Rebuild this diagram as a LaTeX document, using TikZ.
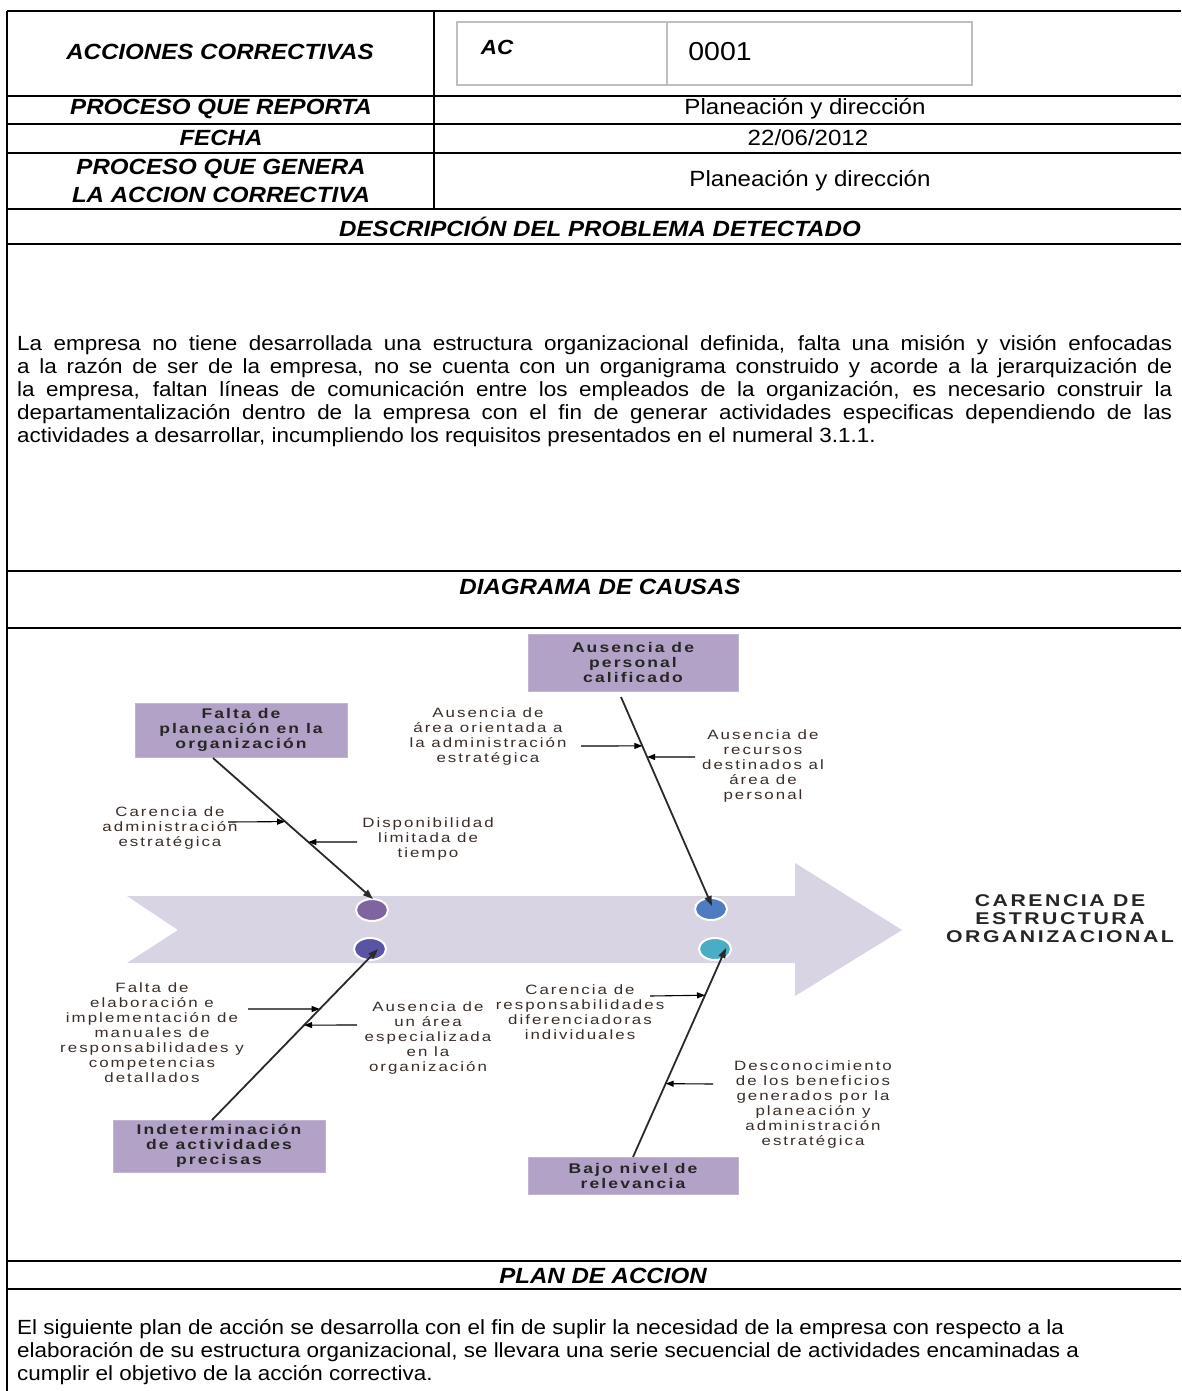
\documentclass[tikz,border=0pt]{standalone}
\usepackage{fontspec}
\setmainfont[FakeStretch=1.095]{Liberation Sans}
\newfontfamily\dgfont[LetterSpace=15,FakeStretch=1.25]{Liberation Sans}
\usetikzlibrary{arrows.meta,calc,shapes.geometric}
\definecolor{arrowbg}{HTML}{D8D4E4}
\definecolor{boxfill}{HTML}{B2A2C7}
\definecolor{cpurple}{HTML}{8064A2}
\definecolor{cblue}{HTML}{4F7BC0}
\definecolor{cindigo}{HTML}{5A54A4}
\definecolor{cteal}{HTML}{4BACC6}
\definecolor{dgtext}{HTML}{3A2E28}
\definecolor{bonecol}{HTML}{2A2A2A}
\definecolor{acgray}{HTML}{BFBFBF}
\begin{document}
\begin{tikzpicture}[x=1pt,y=-1pt,
 rule/.style={line width=2.6pt},
 hdr/.style={inner sep=0pt, font=\fontsize{22}{28}\selectfont\bfseries\itshape, align=center},
 val/.style={inner sep=0pt, font=\fontsize{22}{26}\selectfont, align=center},
 para/.style={inner sep=0pt, anchor=north west, font=\fontsize{20.5}{23}\selectfont, align=left},
 cause/.style={fill=boxfill, draw=boxfill!80!white, line width=0.8pt, inner sep=0pt, font=\dgfont\fontsize{14}{15}\selectfont\bfseries, text=black!85, align=center},
 sub/.style={inner sep=0pt, font=\dgfont\fontsize{13.5}{15}\selectfont, text=dgtext, align=center},
 bone/.style={line width=1.8pt, draw=bonecol, -{Triangle[length=10pt,width=7pt]}},
 twig/.style={line width=1.1pt, draw=black, -{Triangle[length=8pt,width=6pt]}},
 dot/.style={ellipse, minimum width=32pt, minimum height=22pt, inner sep=0pt, draw=white, line width=2pt}
]
\useasboundingbox (0,0) rectangle (1181,1391);
\fill[white] (0,0) rectangle (1181,1391);

% ---------- table rules ----------
\draw[rule] (7,11) -- (1181,11);
\draw[rule] (7,11) -- (7,1391);
\foreach \yy in {96,124,153,209,244,571,628,1261,1289}
  \draw[rule] (7,\yy) -- (1181,\yy);
\draw[rule] (434,11) -- (434,209);

% ---------- header rows ----------
\node[hdr] (t1) at (220,52) {ACCIONES CORRECTIVAS};
\draw[acgray, line width=1.3pt] (457,22) rectangle (972,85);
\draw[acgray, line width=1.3pt] (667,22) -- (667,85);
\node[hdr, font=\fontsize{20.5}{22}\selectfont\bfseries\itshape] (ac) at (497,47) {AC};
\node[val, font=\fontsize{26}{28}\selectfont] (num) at (720,52) {0001};
\node[hdr] (t2) at (221,109) {PROCESO QUE REPORTA};
\node[val] (v2) at (805,109) {Planeación y dirección};
\node[hdr] (t3) at (221,138) {FECHA};
\node[val] (v3) at (808,138) {22/06/2012};
\node[hdr] (t4) at (221,181) {PROCESO QUE GENERA\\LA ACCION CORRECTIVA};
\node[val] (v4) at (810,181) {Planeación y dirección};
\node[hdr] (t5) at (600,227) {DESCRIPCIÓN DEL PROBLEMA DETECTADO};

\node[para] (desc) at (17,334) {%
\makebox[1155pt][s]{\strut La empresa no tiene desarrollada una estructura organizacional definida, falta una misión y visión enfocadas}\\
\makebox[1155pt][s]{\strut a la razón de ser de la empresa, no se cuenta con un organigrama construido y acorde a la jerarquización de}\\
\makebox[1155pt][s]{\strut la empresa, faltan líneas de comunicación entre los empleados de la organización, es necesario construir la}\\
\makebox[1155pt][s]{\strut departamentalización dentro de la empresa con el fin de generar actividades especificas dependiendo de las}\\
\strut actividades a desarrollar, incumpliendo los requisitos presentados en el numeral 3.1.1.};

\node[hdr] (t6) at (600,587) {DIAGRAMA DE CAUSAS};
\node[hdr] (t7) at (603,1276) {PLAN DE ACCION};

\node[para] (plan) at (17,1318) {%
\strut El siguiente plan de acción se desarrolla con el fin de suplir la necesidad de la empresa con respecto a la\\
\strut elaboración de su estructura organizacional, se llevara una serie secuencial de actividades encaminadas a\\
\strut cumplir el objetivo de la acción correctiva.};

% ---------- fishbone ----------
\fill[arrowbg] (127,896) -- (795,896) -- (795,863) -- (902,930) -- (795,996) -- (795,963) -- (127,963) -- (178,930) -- cycle;

\node[dot, fill=cpurple] (c1) at (372,910) {};
\node[dot, fill=cblue] (c2) at (711,909) {};
\node[dot, fill=cindigo] (c3) at (370,949) {};
\node[dot, fill=cteal] (c4) at (715,949) {};

\node[cause, minimum width=212pt, minimum height=54pt] (b1) at (241,730) {Falta de\\planeación en la\\organización};
\node[cause, minimum width=210pt, minimum height=57pt] (b2) at (633,662.5) {Ausencia de\\personal\\calificado};
\node[cause, minimum width=212pt, minimum height=52pt] (b3) at (219,1146) {Indeterminación\\de actividades\\precisas};
\node[cause, minimum width=210pt, minimum height=37pt] (b4) at (633,1175.5) {Bajo nivel de\\relevancia};

\node[font=\dgfont\fontsize{17}{18}\selectfont\bfseries, text=black!85, align=center, inner sep=0pt] (eff) at (1060,919) {CARENCIA DE\\ESTRUCTURA\\ORGANIZACIONAL};

\coordinate (b1s) at (213,758);  \coordinate (b1e) at (373,899);
\coordinate (b2s) at (621,697);  \coordinate (b2e) at (712,906);
\coordinate (b3s) at (212,1120); \coordinate (b3e) at (378,949);
\coordinate (b4s) at (633,1157); \coordinate (b4e) at (726,948);

\draw[bone] (b1s) -- (b1e);
\draw[bone] (b2s) -- (b2e);
\draw[bone] (b3s) -- (b3e);
\draw[bone] (b4s) -- (b4e);

\node[sub] (s1) at (170,828) {Carencia de\\administración\\estratégica};
\node[sub] (s2) at (428,839) {Disponibilidad\\limitada de\\tiempo};
\node[sub] (s3) at (488,737) {Ausencia de\\área orientada a\\la administración\\estratégica};
\node[sub] (s4) at (763,766) {Ausencia de\\recursos\\destinados al\\área de\\personal};
\node[sub] (s5) at (152,1033) {Falta de\\elaboración e\\implementación de\\manuales de\\responsabilidades y\\competencias\\detallados};
\node[sub] (s6) at (428,1038) {Ausencia de\\un área\\especializada\\en la\\organización};
\node[sub] (s7) at (580,1012) {Carencia de\\responsabilidades\\diferenciadoras\\individuales};
\node[sub] (s8) at (813,1104) {Desconocimiento\\de los beneficios\\generados por la\\planeación y\\administración\\estratégica};

\coordinate (a1) at (228,822);
\coordinate (a2) at (357,842);
\coordinate (a3) at (581,746);
\coordinate (a4) at (695,757);
\coordinate (a5) at (248,1009);
\coordinate (a6) at (357,1025);
\coordinate (a7) at (650,996);
\coordinate (a8) at (713,1084);

\draw[twig] (a1) -- ($(b1s)!0.451!(b1e)$);
\draw[twig] (a2) -- ($(b1s)!0.596!(b1e)$);
\draw[twig] (a3) -- ($(b2s)!0.234!(b2e)$);
\draw[twig] (a4) -- ($(b2s)!0.287!(b2e)$);
\draw[twig] (a5) -- ($(b3s)!0.649!(b3e)$);
\draw[twig] (a6) -- ($(b3s)!0.555!(b3e)$);
\draw[twig] (a7) -- ($(b4s)!0.774!(b4e)$);
\draw[twig] (a8) -- ($(b4s)!0.351!(b4e)$);
\end{tikzpicture}
\end{document}
